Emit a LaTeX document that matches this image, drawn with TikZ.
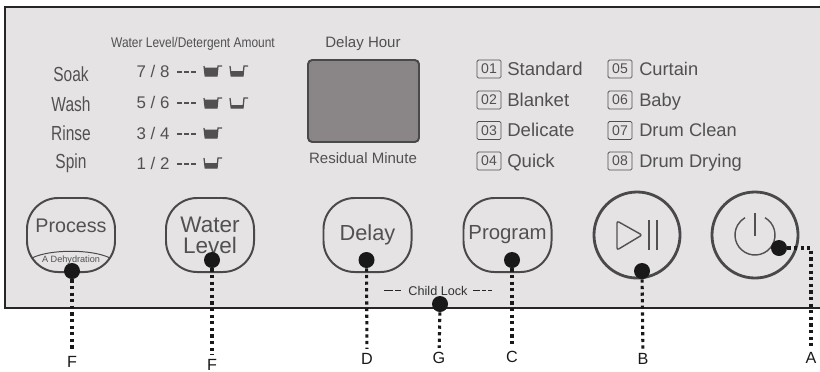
\documentclass[tikz,border=0pt]{standalone}
\usepackage{fontspec}
\setmainfont{Liberation Sans}
\usetikzlibrary{calc,positioning}
\definecolor{panelgray}{HTML}{E5E3E4}
\definecolor{inkgray}{HTML}{515153}
\definecolor{screengray}{HTML}{8A8688}
\tikzset{
  btn/.style={draw=inkgray!90!black, line width=1.4pt, rounded corners=0.78cm, minimum width=2.2cm, minimum height=1.85cm, inner sep=0pt, text=inkgray, align=center},
  roundbtn/.style={draw=inkgray!90!black, line width=2pt, circle, minimum size=2.15cm, inner sep=0pt},
  marker/.style={circle, fill=black!90, minimum size=0.4cm, inner sep=0pt},
  leader/.style={line width=2.2pt, black!90, dash pattern=on 2.3pt off 2.4pt, shorten >=3pt},
  letter/.style={font=\fontsize{11.5}{12}\selectfont, text=black!90, inner sep=0pt},
  txt/.style={text=inkgray, inner sep=0pt},
  numbox/.style={draw=inkgray, line width=0.6pt, rounded corners=1pt, minimum width=0.6cm, minimum height=0.45cm, inner sep=0pt, text=inkgray, font=\fontsize{10}{10}\selectfont},
  cup/.pic={
    \draw[inkgray, line width=0.9pt] (0,0) -- (1.2,10) -- (13,10) -- (14,0) -- (18,0);
    \fill[inkgray] (1.2,#1) -- (1.2,10) -- (13,10) -- (13.8,#1) -- cycle;
  }
}
\begin{document}
\begin{tikzpicture}[x=0.025cm, y=-0.025cm]
\useasboundingbox (0,0) rectangle (820,371);
% panel
\fill[panelgray] (5,7) rectangle (820,308);
\draw[black!85, line width=0.8pt] (820,7) -- (5,7) -- (5,308) -- (820,308);

% water level table
\node[txt, font=\fontsize{10}{10}\selectfont] (header) at (193,44) {\scalebox{0.85}[1]{Water Level/Detergent Amount}};
\foreach \name/\base in {Soak/81, Wash/111, Rinse/140, Spin/168}
  \node[txt, font=\fontsize{14.5}{14}\selectfont, anchor=base] (\name) at (71,\base) {\scalebox{0.76}[1]{\name}};
\foreach \nums/\yy in {{7 / 8}/71, {5 / 6}/102, {3 / 4}/133, {1 / 2}/163} {
  \node[txt, font=\fontsize{12}{12}\selectfont] at (153,\yy) {\nums};
  \draw[inkgray, line width=1.1pt, dash pattern=on 3.2pt off 1.9pt] (177,\yy+1) -- (197,\yy+1);
}
% cups
\pic at (204,66) {cup=1.5};
\pic at (230,66) {cup=5};
\pic at (204,98) {cup=1.5};
\pic at (230,98) {cup=7};
\pic at (204,128) {cup=1.5};
\pic at (204,158) {cup=5};

% display
\node[txt, font=\fontsize{10.7}{11}\selectfont] (delayhour) at (363,44) {Delay Hour};
\draw[fill=screengray, draw=inkgray!90!black, line width=1.4pt, rounded corners=3pt] (308,60) rectangle (419,142);
\node[txt, font=\fontsize{10.7}{11}\selectfont] (residual) at (363,158) {Residual Minute};

% programs
\foreach \num/\prog/\yy in {01/Standard/69, 02/Blanket/100, 03/Delicate/130.5, 04/Quick/161} {
  \node[numbox] (p\num) at (489,\yy) {\num};
  \node[txt, anchor=base west, font=\fontsize{13.2}{13}\selectfont] at (507,\yy+6) {\prog};
}
\foreach \num/\prog/\yy in {05/Curtain/69, 06/Baby/100, 07/Drum Clean/130.5, 08/Drum Drying/161} {
  \node[numbox] (p\num) at (620,\yy) {\num};
  \node[txt, anchor=base west, font=\fontsize{13}{13}\selectfont] at (639,\yy+6) {\prog};
}

% buttons
\node[btn] (process) at (71,235) {};
\node[txt, font=\fontsize{14}{14}\selectfont] (processtxt) at (71,226) {Process};
\draw[inkgray!90!black, line width=0.7pt] (32,258) .. controls (50,249) and (92,249) .. (110,258);
\node[txt, font=\fontsize{6.5}{7}\selectfont] (dehyd) at (71,260.5) {A Dehydration};
\node[btn, font=\fontsize{16}{14}\selectfont] (water) at (210,235) {Water\\[1pt]Level};
\node[btn, font=\fontsize{15.5}{16}\selectfont] (delay) at (367.5,235) {Delay};
\node[btn, font=\fontsize{14.5}{16}\selectfont] (program) at (507.5,235) {Program};
\node[roundbtn] (play) at (637,235) {};
\node[roundbtn] (power) at (755,235) {};

% play icon
\draw[inkgray, line width=1pt, line join=round, rounded corners=1.5pt] (617,221) -- (642,235) -- (617,250) -- cycle;
\draw[inkgray, line width=1pt] (649,220) -- (649,250) (657,220) -- (657,250);
% power icon
\draw[inkgray, line width=1pt] ([shift={(-60:20)}]power.center) arc[start angle=-60, end angle=240, radius=20];
\draw[inkgray, line width=1pt] (755,213) -- (755,236);

% child lock
\node[txt, text=black!80, font=\fontsize{9}{10}\selectfont] (childlock) at (438,290.5) {Child Lock};
\draw[black!85, line width=1.3pt] (384,290.5) -- (393,290.5) (395,290.5) -- (401,290.5);
\draw[black!85, line width=1.3pt] (473,290.5) -- (480,290.5) (482,290.5) -- (486,290.5) (488,290.5) -- (492,290.5);

% markers and labels
\node[marker] (mF) at (72,271) {};
\node[marker] (mFb) at (212,260) {};
\node[marker] (mD) at (366.5,260) {};
\node[marker] (mG) at (440,304) {};
\node[marker] (mC) at (512,260) {};
\node[marker] (mB) at (642,271) {};
\node[marker] (mA) at (779,248) {};
\node[letter] (lF) at (72,362) {F};
\node[letter] (lFb) at (212,365) {F};
\node[letter] (lD) at (367,359) {D};
\node[letter] (lG) at (439,358) {G};
\node[letter] (lC) at (512,357) {C};
\node[letter] (lB) at (643,359) {B};
\node[letter] (lA) at (811,358) {A};
\coordinate (bend) at (811,248);
\draw[leader] (mF) -- (lF);
\draw[leader] (mFb) -- (lFb);
\draw[leader] (mD) -- (lD);
\draw[leader] (mG) -- (lG);
\draw[leader] (mC) -- (lC);
\draw[leader] (mB) -- (lB);
\draw[leader] (mA) -- (bend) -- (lA);
\end{tikzpicture}
\end{document}
